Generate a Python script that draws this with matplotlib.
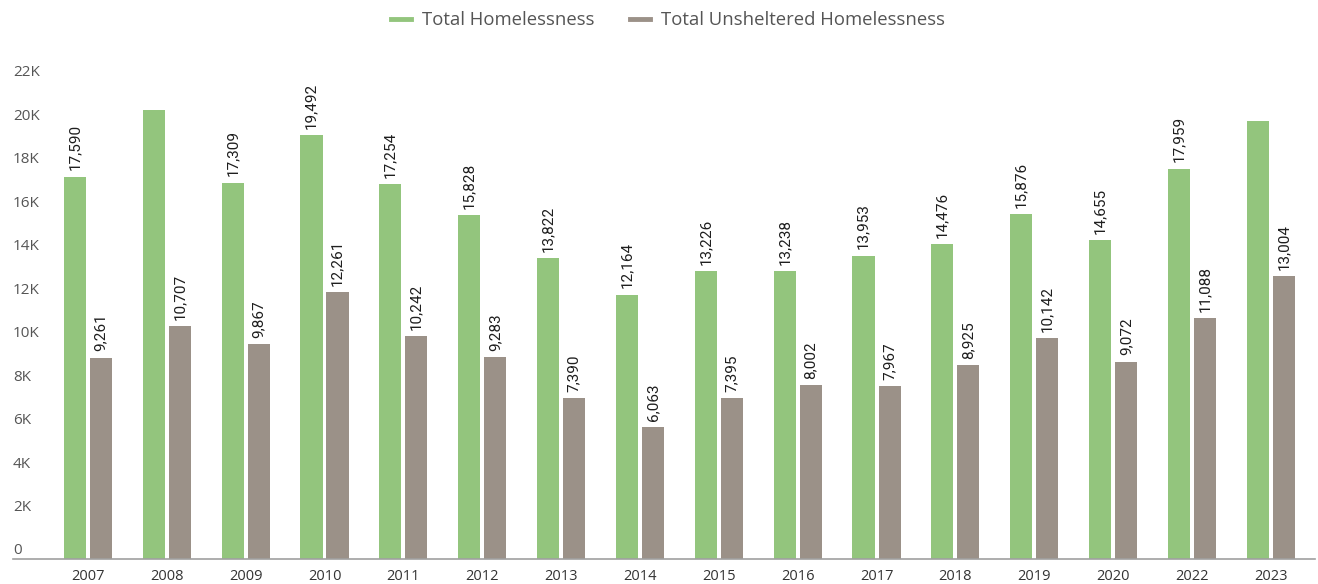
import matplotlib
matplotlib.use("Agg")
import matplotlib.pyplot as plt
import matplotlib.transforms as mtransforms
from matplotlib.lines import Line2D
import numpy as np

years = ["2007", "2008", "2009", "2010", "2011", "2012", "2013", "2014",
         "2015", "2016", "2017", "2018", "2019", "2020", "2022", "2023"]
total = [17590, 20650, 17309, 19492, 17254, 15828, 13822, 12164,
         13226, 13238, 13953, 14476, 15876, 14655, 17959, 20150]
unsheltered = [9261, 10707, 9867, 12261, 10242, 9283, 7390, 6063,
               7395, 8002, 7967, 8925, 10142, 9072, 11088, 13004]
# years whose total bar carries no value label
unlabeled_total = {"2008", "2023"}
y_ticks = [0, 2000, 4000, 6000, 8000, 10000, 12000, 14000, 16000, 18000, 20000, 22000]
y_tick_labels = ["0", "2K", "4K", "6K", "8K", "10K", "12K", "14K", "16K", "18K", "20K", "22K"]

GREEN = "#93c57d"
GRAY = "#9b9188"
TEXT = "#555555"

plt.rcParams["font.family"] = ["Open Sans", "DejaVu Sans"]

fig = plt.figure(figsize=(13.18, 5.84), dpi=100)
ax = fig.add_axes([13 / 1318, 25 / 584, (1315 - 13) / 1318, (559 - 60) / 584])

x = np.arange(len(years))
w = 0.28
off = 0.165
b1 = ax.bar(x - off, total, width=w, color=GREEN, zorder=2)
b2 = ax.bar(x + off, unsheltered, width=w, color=GRAY, zorder=2)

label_kw = dict(xytext=(0, 4.5), textcoords="offset points", rotation=90,
                ha="center", va="bottom", fontsize=11, color="#1e1e1e",
                family=["Roboto", "DejaVu Sans"])
for yr, rect, v in zip(years, b1, total):
    if yr in unlabeled_total:
        continue
    ax.annotate(f"{v:,}", (rect.get_x() + rect.get_width() / 2, v), **label_kw)
for rect, v in zip(b2, unsheltered):
    ax.annotate(f"{v:,}", (rect.get_x() + rect.get_width() / 2, v), **label_kw)

ax.set_xlim(-0.95, 15.56)
ax.set_ylim(0, 22950)
ax.set_xticks(x)
ax.set_xticklabels(years, fontsize=10.5, color="#333333")
ax.tick_params(axis="x", length=0, pad=7)

ax.set_yticks(y_ticks)
ax.set_yticklabels(y_tick_labels, fontsize=11, color=TEXT)
ax.tick_params(axis="y", length=0, pad=0)
shift = mtransforms.ScaledTranslation(0, 10 / 100, fig.dpi_scale_trans)
for lbl in ax.get_yticklabels():
    lbl.set_horizontalalignment("left")
    lbl.set_transform(lbl.get_transform() + shift)

for s in ["top", "right", "left"]:
    ax.spines[s].set_visible(False)
ax.spines["bottom"].set_color("#a0a0a0")
ax.spines["bottom"].set_linewidth(1.2)

handles = [Line2D([], [], color=GREEN, lw=3.5),
           Line2D([], [], color=GRAY, lw=3.5)]
fig.legend(handles, ["Total Homelessness", "Total Unsheltered Homelessness"],
           loc="center", bbox_to_anchor=(668 / 1318, 1 - 20 / 584), ncol=2,
           frameon=False, fontsize=13.3, labelcolor=TEXT, handlelength=1.1,
           handletextpad=0.6, columnspacing=1.9)

fig.savefig("out.png", dpi=100)
